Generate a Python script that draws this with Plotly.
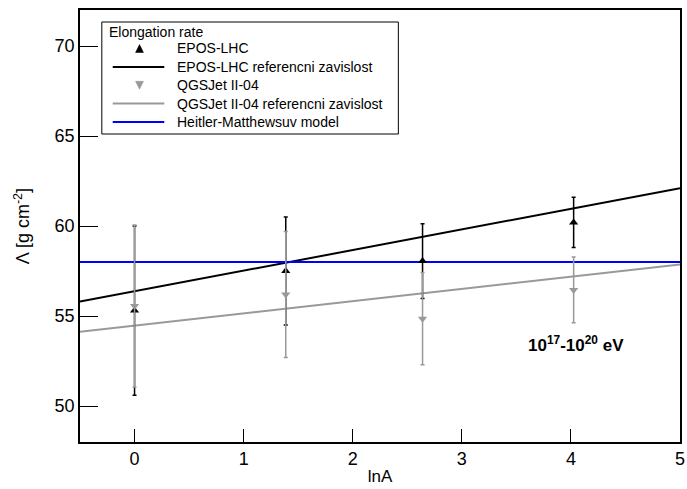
import plotly.graph_objects as go

# ---- data ----
lnA = [0.0, 1.386, 2.64, 4.025]
epos_val = [55.3, 57.5, 58.05, 60.2]
epos_err = [4.7, 3.0, 2.08, 1.4]
qgs_val = [55.55, 56.2, 54.85, 56.45]
qgs_err = [4.5, 3.5, 2.56, 1.83]

ref_x = [-0.5, 5.0]
epos_ref = [55.8, 62.1]
qgs_ref = [54.13, 57.86]
hm_ref = [58.0, 58.0]

x_ticks = [0, 1, 2, 3, 4, 5]
y_ticks = [50, 55, 60, 65, 70]

legend_title = "Elongation rate"
legend_names = ["EPOS-LHC", "EPOS-LHC referencni zavislost", "QGSJet II-04",
                "QGSJet II-04 referencni zavislost", "Heitler-Matthewsuv model"]

BLACK = "#000000"
GRAY = "#999999"
BLUE = "#0000ff"
FONT = "Liberation Sans, Arial, sans-serif"

# plot area in pixels (for placing the legend box)
L, R, T, B = 80, 685, 10, 442


def px(x):
    return (x - L) / (R - L)


def py(y):
    return 1 - (y - T) / (B - T)


fig = go.Figure()

# reference lines
fig.add_trace(go.Scatter(x=ref_x, y=epos_ref, mode="lines", name=legend_names[1],
                         line=dict(color=BLACK, width=2), showlegend=False))
fig.add_trace(go.Scatter(x=ref_x, y=qgs_ref, mode="lines", name=legend_names[3],
                         line=dict(color=GRAY, width=2), showlegend=False))
fig.add_trace(go.Scatter(x=ref_x, y=hm_ref, mode="lines", name=legend_names[4],
                         line=dict(color=BLUE, width=2), showlegend=False))

# points with error bars
fig.add_trace(go.Scatter(x=lnA, y=epos_val, mode="markers", name=legend_names[0],
                         marker=dict(symbol="triangle-up", size=8, color=BLACK),
                         error_y=dict(type="data", array=epos_err, color=BLACK, thickness=1.5, width=2),
                         showlegend=False))
fig.add_trace(go.Scatter(x=lnA, y=qgs_val, mode="markers", name=legend_names[2],
                         marker=dict(symbol="triangle-down", size=8, color=GRAY),
                         error_y=dict(type="data", array=qgs_err, color=GRAY, thickness=1.5, width=2),
                         showlegend=False))

fig.add_annotation(x=4.05, y=53.45, xref="x", yref="y",
                   text="<b>10<sup>17</sup>-10<sup>20</sup> eV</b>", showarrow=False,
                   font=dict(family=FONT, size=17, color=BLACK))

# ---- legend (box, header, keys, labels) ----
fig.add_shape(type="rect", xref="paper", yref="paper",
              x0=px(102), x1=px(401), y0=py(134), y1=py(22),
              line=dict(color=BLACK, width=1), fillcolor="white", layer="above")
fig.add_annotation(x=px(107), y=py(32), xref="paper", yref="paper", xanchor="left", yanchor="middle",
                   text=legend_title, showarrow=False, font=dict(family=FONT, size=14, color=BLACK))
row_y = [48.5, 67, 85.3, 103.6, 122]
key_style = [("tri-up", BLACK), ("line", BLACK), ("tri-down", GRAY), ("line", GRAY), ("line", BLUE)]
for name, ry, (kind, col) in zip(legend_names, row_y, key_style):
    fig.add_annotation(x=px(176), y=py(ry), xref="paper", yref="paper", xanchor="left", yanchor="middle",
                       text=name, showarrow=False, font=dict(family=FONT, size=14, color=BLACK))
    if kind == "line":
        fig.add_shape(type="line", xref="paper", yref="paper", x0=px(113), x1=px(165),
                      y0=py(ry), y1=py(ry), line=dict(color=col, width=2), layer="above")
    else:
        cx, s = 140, 4
        if kind == "tri-up":
            pts = [(cx - s, ry + s), (cx + s, ry + s), (cx, ry - s)]
        else:
            pts = [(cx - s, ry - s), (cx + s, ry - s), (cx, ry + s)]
        path = "M {} {} L {} {} L {} {} Z".format(*[v for p in pts for v in (px(p[0]), py(p[1]))])
        fig.add_shape(type="path", xref="paper", yref="paper", path=path,
                      fillcolor=col, line=dict(color=col, width=0.5), layer="above")

fig.update_layout(
    width=687, height=489,
    margin=dict(l=L, r=687 - R, t=T, b=489 - B),
    paper_bgcolor="white", plot_bgcolor="white",
    font=dict(family=FONT, color=BLACK),
    showlegend=False,
    xaxis=dict(range=[-0.5, 5.0], tickvals=x_ticks, ticktext=[str(v) for v in x_ticks],
               ticks="inside", ticklen=13, tickwidth=1, tickcolor=BLACK,
               ticklabeloverflow="allow",
               showline=True, linecolor=BLACK, linewidth=1.5, mirror=True,
               showgrid=False, zeroline=False,
               tickfont=dict(family=FONT, size=18),
               title=dict(text="lnA", font=dict(family=FONT, size=17), standoff=2)),
    yaxis=dict(range=[48, 72], tickvals=y_ticks, ticktext=[str(v) for v in y_ticks],
               ticks="inside", ticklen=18, tickwidth=1, tickcolor=BLACK,
               showline=True, linecolor=BLACK, linewidth=1.5, mirror=True,
               showgrid=False, zeroline=False,
               tickfont=dict(family=FONT, size=18),
               title=dict(text="Λ [g cm<sup>-2</sup>]", font=dict(family=FONT, size=18), standoff=20)),
)

fig.write_html("out.html")
